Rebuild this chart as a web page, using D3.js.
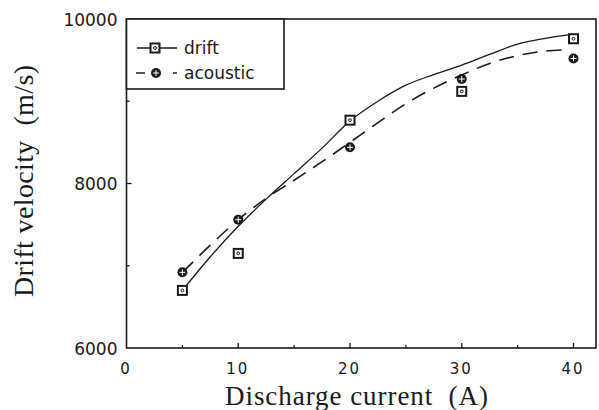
<!DOCTYPE html>
<html>
<head>
<meta charset="utf-8">
<script src="https://cdn.jsdelivr.net/npm/d3@7"></script>
<style>
  html, body { margin: 0; padding: 0; background: #fff; }
  svg { display: block; }
  .title { white-space: pre; }
</style>
</head>
<body>
<svg id="chart" width="599" height="410"></svg>
<script>
// ---- data ----
const current = [5, 10, 20, 30, 40];
const driftVelocity = [6700, 7150, 8770, 9120, 9760];
const acousticVelocity = [6920, 7560, 8440, 9270, 9520];

const driftFitX = [5, 7.5, 10, 12.5, 15, 17.5, 20, 22.5, 25, 27.5, 30, 32.5, 35, 37.5, 40];
const driftFitY = [6700, 7110, 7480, 7810, 8120, 8430, 8760, 9000, 9195, 9325, 9440, 9570, 9695, 9765, 9815];
const acousticFitX = [5, 7.5, 10, 12.5, 15, 17.5, 20, 22.5, 25, 27.5, 30, 32.5, 35, 37.5, 39.5];
const acousticFitY = [6920, 7250, 7560, 7820, 8040, 8265, 8500, 8740, 8970, 9160, 9320, 9460, 9555, 9610, 9625];

const xTickValues = [0, 10, 20, 30, 40];
const xMinorTicks = [5, 15, 25, 35];
const yTickValues = [6000, 8000, 10000];
const yMinorTicks = [7000, 9000];
const seriesNames = ["drift", "acoustic"];
const xTitle = "Discharge current  (A)";
const yTitle = "Drift velocity  (m/s)";

// ---- layout ----
const svg = d3.select("#chart");
const pLeft = 126.5, pRight = 596, pTop = 19, pBottom = 348;
const x = d3.scaleLinear().domain([0, 42]).range([pLeft, pLeft + 42 * 11.175]);
const y = d3.scaleLinear().domain([6000, 10000]).range([pBottom, pTop]);
const ink = "#1a1a1a";

// frame
svg.append("rect")
  .attr("x", pLeft).attr("y", pTop)
  .attr("width", pRight - pLeft).attr("height", pBottom - pTop)
  .attr("fill", "none").attr("stroke", ink).attr("stroke-width", 1.6);

// x ticks (inward)
const xAxis = d3.axisBottom(x).tickValues(xTickValues).tickSize(0).tickFormat(d3.format("d"));
const gx = svg.append("g").attr("transform", `translate(0,${pBottom})`).call(xAxis);
gx.select(".domain").remove();
gx.selectAll("text")
  .attr("x", -1)
  .attr("y", 26)
  .attr("dy", 0)
  .attr("font-family", "DejaVu Sans, sans-serif")
  .attr("font-size", 15)
  .attr("letter-spacing", "2px")
  .attr("fill", ink);
svg.append("g").selectAll("line")
  .data(xTickValues.filter(d => d > 0).concat(xMinorTicks))
  .join("line")
  .attr("x1", d => x(d)).attr("x2", d => x(d))
  .attr("y1", pBottom).attr("y2", d => pBottom - (xMinorTicks.includes(d) ? 3 : 5))
  .attr("stroke", ink).attr("stroke-width", 1.3);

// y ticks
const yAxis = d3.axisLeft(y).tickValues(yTickValues).tickSize(0).tickFormat(d3.format("d"));
const gy = svg.append("g").attr("transform", `translate(${pLeft},0)`).call(yAxis);
gy.select(".domain").remove();
gy.selectAll("text")
  .attr("x", -9)
  .attr("dy", "0.36em")
  .attr("font-family", "DejaVu Sans, sans-serif")
  .attr("font-size", 17)
  .attr("fill", ink);
svg.append("g").selectAll("line")
  .data(yTickValues.filter(d => d > 6000 && d < 10000).concat(yMinorTicks))
  .join("line")
  .attr("x1", pLeft).attr("x2", d => pLeft + (yMinorTicks.includes(d) ? 3 : 5))
  .attr("y1", d => y(d)).attr("y2", d => y(d))
  .attr("stroke", ink).attr("stroke-width", 1.3);

// axis titles
svg.append("text")
  .attr("class", "title")
  .attr("x", 225).attr("y", 405)
  .attr("font-family", "Liberation Serif, Times New Roman, serif")
  .attr("font-size", 27)
  .attr("textLength", 263).attr("lengthAdjust", "spacing")
  .attr("fill", ink)
  .text(xTitle);
svg.append("text")
  .attr("class", "title")
  .attr("transform", "translate(33,297) rotate(-90)")
  .attr("font-family", "Liberation Serif, Times New Roman, serif")
  .attr("font-size", 28)
  .attr("textLength", 232).attr("lengthAdjust", "spacing")
  .attr("fill", ink)
  .text(yTitle);

// fit curves
const fitLine = d3.line().x(d => x(d[0])).y(d => y(d[1])).curve(d3.curveCatmullRom);
svg.append("path")
  .datum(driftFitX.map((v, i) => [v, driftFitY[i]]))
  .attr("d", fitLine)
  .attr("fill", "none").attr("stroke", ink).attr("stroke-width", 1.3);
svg.append("path")
  .datum(acousticFitX.map((v, i) => [v, acousticFitY[i]]))
  .attr("d", fitLine)
  .attr("fill", "none").attr("stroke", ink).attr("stroke-width", 1.6)
  .attr("stroke-dasharray", "15,9");

// markers
function squareMarker(g, cx, cy) {
  g.append("rect").attr("x", cx - 4.5).attr("y", cy - 4.5).attr("width", 9).attr("height", 9)
    .attr("fill", "#fff").attr("stroke", ink).attr("stroke-width", 2);
  g.append("circle").attr("cx", cx).attr("cy", cy).attr("r", 1.4).attr("fill", "none")
    .attr("stroke", ink).attr("stroke-width", 1);
}
function circleMarker(g, cx, cy) {
  g.append("circle").attr("cx", cx).attr("cy", cy).attr("r", 5).attr("fill", ink);
  g.append("line").attr("x1", cx - 3).attr("x2", cx + 3).attr("y1", cy).attr("y2", cy)
    .attr("stroke", "#fff").attr("stroke-width", 1);
  g.append("line").attr("x1", cx).attr("x2", cx).attr("y1", cy - 3).attr("y2", cy + 3)
    .attr("stroke", "#fff").attr("stroke-width", 1);
}
const gm = svg.append("g");
current.forEach((c, i) => squareMarker(gm, x(c), y(driftVelocity[i])));
current.forEach((c, i) => circleMarker(gm, x(c), y(acousticVelocity[i])));

// legend
const lg = svg.append("g");
lg.append("rect").attr("x", pLeft).attr("y", pTop).attr("width", 284 - pLeft).attr("height", 89 - pTop)
  .attr("fill", "#fff").attr("stroke", ink).attr("stroke-width", 1.6);
const rows = [48, 73];
lg.append("line").attr("x1", 137).attr("x2", 177).attr("y1", rows[0]).attr("y2", rows[0])
  .attr("stroke", ink).attr("stroke-width", 1.3);
squareMarker(lg, 155, rows[0]);
lg.append("line").attr("x1", 136).attr("x2", 177).attr("y1", rows[1]).attr("y2", rows[1])
  .attr("stroke", ink).attr("stroke-width", 1.5).attr("stroke-dasharray", "9,28");
circleMarker(lg, 156, rows[1]);
lg.selectAll("text.lab").data(seriesNames).join("text")
  .attr("class", "lab")
  .attr("x", 184).attr("y", (d, i) => rows[i])
  .attr("dy", "0.36em")
  .attr("font-family", "DejaVu Sans, sans-serif")
  .attr("font-size", 17)
  .attr("fill", ink)
  .text(d => d);
</script>
</body>
</html>
